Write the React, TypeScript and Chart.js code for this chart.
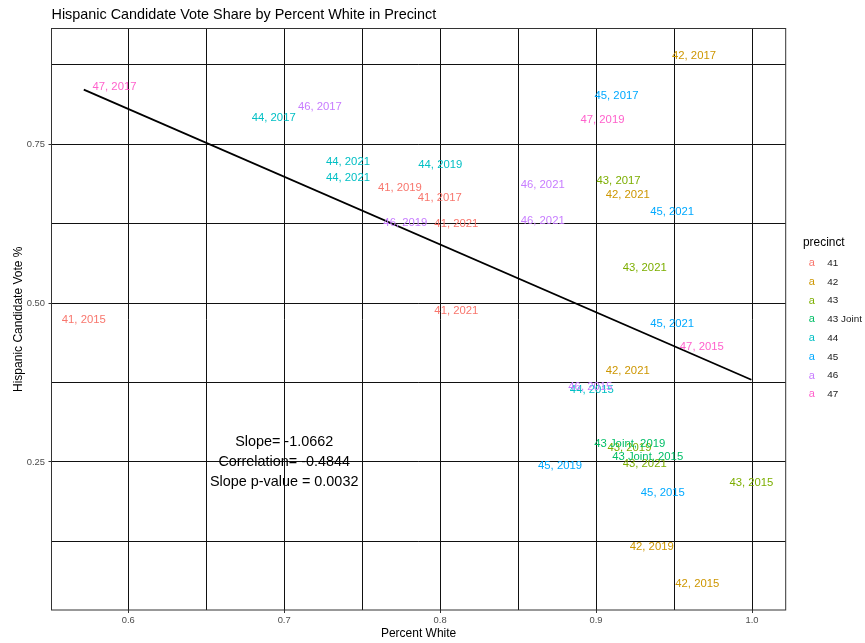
import React, { useEffect, useRef } from "react";
import { Chart, registerables } from "chart.js";

Chart.register(...registerables);

const FONT = "'Liberation Sans', Arial, Helvetica, sans-serif";

const TITLE = "Hispanic Candidate Vote Share by Percent White in Precinct";
const X_TITLE = "Percent White";
const Y_TITLE = "Hispanic Candidate Vote %";
const LEGEND_TITLE = "precinct";

const PRECINCTS = ["41", "42", "43", "43 Joint", "44", "45", "46", "47"];
const PRECINCT_COLORS = ["#F8766D", "#CD9600", "#7CAE00", "#00BE67", "#00BFC4", "#00A9FF", "#C77CFF", "#FF61CC"];

const POINT_PRECINCT = [
  "41", "41", "41", "41", "41",
  "42", "42", "42", "42", "42",
  "43", "43", "43", "43", "43",
  "43 Joint", "43 Joint",
  "44", "44", "44", "44", "44",
  "45", "45", "45", "45", "45",
  "46", "46", "46", "46", "46",
  "47", "47", "47",
];
const POINT_YEAR = [
  "2015", "2017", "2019", "2021", "2021",
  "2015", "2017", "2019", "2021", "2021",
  "2015", "2017", "2019", "2021", "2021",
  "2015", "2019",
  "2015", "2017", "2019", "2021", "2021",
  "2015", "2017", "2019", "2021", "2021",
  "2015", "2017", "2019", "2021", "2021",
  "2015", "2017", "2019",
];
const PCT_WHITE = [
  0.5715, 0.7998, 0.7742, 0.8104, 0.8104,
  0.9649, 0.9628, 0.9357, 0.9203, 0.9203,
  0.9996, 0.9144, 0.9214, 0.9312, 0.9312,
  0.9331, 0.9216,
  0.8973, 0.6933, 0.8001, 0.7409, 0.7409,
  0.9428, 0.9131, 0.8769, 0.9488, 0.9488,
  0.8963, 0.7229, 0.7777, 0.8658, 0.8658,
  0.9678, 0.5912, 0.9041,
];
const VOTE_SHARE = [
  0.4733, 0.666, 0.6817, 0.6241, 0.4882,
  0.0577, 0.8894, 0.1169, 0.6702, 0.394,
  0.2176, 0.6927, 0.2717, 0.5559, 0.247,
  0.2575, 0.278,
  0.3634, 0.7919, 0.7174, 0.7226, 0.6965,
  0.2009, 0.8265, 0.2439, 0.644, 0.4673,
  0.3686, 0.8082, 0.6257, 0.6864, 0.6298,
  0.4306, 0.8406, 0.7882,
];

const X_MAJOR = [0.6, 0.7, 0.8, 0.9, 1.0];
const X_MAJOR_LABELS = ["0.6", "0.7", "0.8", "0.9", "1.0"];
const X_MINOR = [0.65, 0.75, 0.85, 0.95];
const Y_MAJOR = [0.25, 0.5, 0.75];
const Y_MAJOR_LABELS = ["0.25", "0.50", "0.75"];
const Y_MINOR = [0.125, 0.375, 0.625, 0.875];
const X_RANGE = [0.5508, 1.0216];
const Y_RANGE = [0.0171, 0.932];

const SLOPE = -1.0662;
const INTERCEPT = 1.4452;
const STATS_LINES = ["Slope= -1.0662", "Correlation= -0.4844", "Slope p-value = 0.0032"];
const STATS_ANCHOR = [0.7, 0.25];

const near = (a: number, b: number) => Math.abs(a - b) < 1e-9;
const majorIndex = (list: number[], v: number) => list.findIndex((m) => near(m, v));

const overlayPlugin = {
  id: "overlay",
  afterDatasetsDraw(chart: any) {
    const ctx = chart.ctx;
    const xs = chart.scales.x;
    const ys = chart.scales.y;
    ctx.save();
    ctx.textAlign = "center";
    ctx.textBaseline = "middle";
    ctx.font = `11.3px ${FONT}`;
    for (let i = 0; i < PCT_WHITE.length; i++) {
      const ci = PRECINCTS.indexOf(POINT_PRECINCT[i]);
      ctx.fillStyle = PRECINCT_COLORS[ci];
      ctx.fillText(`${POINT_PRECINCT[i]}, ${POINT_YEAR[i]}`, xs.getPixelForValue(PCT_WHITE[i]), ys.getPixelForValue(VOTE_SHARE[i]));
    }
    // stats annotation
    ctx.font = `14.4px ${FONT}`;
    ctx.fillStyle = "#000";
    const ax = xs.getPixelForValue(STATS_ANCHOR[0]);
    const ay = ys.getPixelForValue(STATS_ANCHOR[1]);
    const lh = 19.7;
    STATS_LINES.forEach((line, k) => {
      ctx.fillText(line, ax, ay + (k - (STATS_LINES.length - 1) / 2) * lh);
    });
    ctx.restore();
  },
  afterDraw(chart: any) {
    const ctx = chart.ctx;
    const a = chart.chartArea;
    ctx.save();
    // panel border
    ctx.strokeStyle = "#333";
    ctx.lineWidth = 1;
    ctx.strokeRect(a.left, a.top, a.right - a.left, a.bottom - a.top);
    // title
    ctx.fillStyle = "#000";
    ctx.textAlign = "left";
    ctx.textBaseline = "middle";
    ctx.font = `14.4px ${FONT}`;
    ctx.fillText(TITLE, a.left, 15);
    // axis titles
    ctx.font = `12px ${FONT}`;
    ctx.textAlign = "center";
    ctx.fillText(X_TITLE, (a.left + a.right) / 2, 634);
    ctx.save();
    ctx.translate(18.3, (a.top + a.bottom) / 2);
    ctx.rotate(-Math.PI / 2);
    ctx.fillText(Y_TITLE, 0, 0);
    ctx.restore();
    // legend
    ctx.textAlign = "left";
    ctx.font = `11.9px ${FONT}`;
    ctx.fillStyle = "#000";
    ctx.fillText(LEGEND_TITLE, 803, 243);
    PRECINCTS.forEach((p, i) => {
      const y = 263.3 + i * 18.7;
      ctx.font = `11px ${FONT}`;
      ctx.textAlign = "center";
      ctx.fillStyle = PRECINCT_COLORS[i];
      ctx.fillText("a", 811.7, y);
      ctx.font = `9.9px ${FONT}`;
      ctx.textAlign = "left";
      ctx.fillStyle = "#1A1A1A";
      ctx.fillText(p, 827.3, y);
    });
    ctx.restore();
  },
};

export default function App() {
  const ref = useRef<HTMLCanvasElement>(null);
  useEffect(() => {
    if (!ref.current) return;
    const xmin = Math.min(...PCT_WHITE);
    const xmax = Math.max(...PCT_WHITE);
    const chart = new Chart(ref.current, {
      type: "scatter",
      data: {
        datasets: [
          {
            label: "fit",
            data: [
              { x: xmin, y: INTERCEPT + SLOPE * xmin },
              { x: xmax, y: INTERCEPT + SLOPE * xmax },
            ],
            showLine: true,
            borderColor: "#000",
            borderWidth: 1.8,
            pointRadius: 0,
            fill: false,
          } as any,
          ...PRECINCTS.map((p, ci) => ({
            label: p,
            data: PCT_WHITE.map((x, i) => ({ x, y: VOTE_SHARE[i], p: POINT_PRECINCT[i] })).filter((d) => d.p === p),
            pointRadius: 0,
            backgroundColor: PRECINCT_COLORS[ci],
            borderColor: PRECINCT_COLORS[ci],
          })),
        ],
      },
      options: {
        responsive: false,
        animation: false,
        events: [],
        layout: { padding: { left: 0, top: 28.5, right: 79.3, bottom: 0 } },
        plugins: {
          legend: { display: false },
          title: { display: false },
          tooltip: { enabled: false },
        },
        scales: {
          x: {
            type: "linear",
            min: X_RANGE[0],
            max: X_RANGE[1],
            afterBuildTicks: (s: any) => {
              s.ticks = [...X_MAJOR, ...X_MINOR].sort((a, b) => a - b).map((v) => ({ value: v }));
            },
            afterFit: (s: any) => {
              s.height = 33;
            },
            ticks: {
              autoSkip: false,
              maxRotation: 0,
              minRotation: 0,
              padding: 2,
              color: "#4D4D4D",
              font: { family: FONT, size: 9.4 },
              callback: (v: any) => {
                const i = majorIndex(X_MAJOR, Number(v));
                return i >= 0 ? X_MAJOR_LABELS[i] : "";
              },
            },
            grid: {
              color: "#111",
              lineWidth: 1,
              tickLength: 3,
              tickColor: (c: any) => (c.tick && majorIndex(X_MAJOR, c.tick.value) >= 0 ? "#333" : "rgba(0,0,0,0)"),
            },
            border: { display: false },
          },
          y: {
            type: "linear",
            min: Y_RANGE[0],
            max: Y_RANGE[1],
            afterBuildTicks: (s: any) => {
              s.ticks = [...Y_MAJOR, ...Y_MINOR].sort((a, b) => a - b).map((v) => ({ value: v }));
            },
            afterFit: (s: any) => {
              s.width = 51.5;
            },
            ticks: {
              autoSkip: false,
              padding: 3.5,
              color: "#4D4D4D",
              font: { family: FONT, size: 9.4 },
              callback: (v: any) => {
                const i = majorIndex(Y_MAJOR, Number(v));
                return i >= 0 ? Y_MAJOR_LABELS[i] : "";
              },
            },
            grid: {
              color: "#111",
              lineWidth: 1,
              tickLength: 3,
              tickColor: (c: any) => (c.tick && majorIndex(Y_MAJOR, c.tick.value) >= 0 ? "#333" : "rgba(0,0,0,0)"),
            },
            border: { display: false },
          },
        },
      } as any,
      plugins: [overlayPlugin],
    });
    return () => chart.destroy();
  }, []);
  return (
    <div style={{ position: "absolute", left: 0, top: 0, width: 865, height: 643, background: "#fff" }}>
      <canvas ref={ref} width={865} height={643} style={{ display: "block" }} />
    </div>
  );
}
